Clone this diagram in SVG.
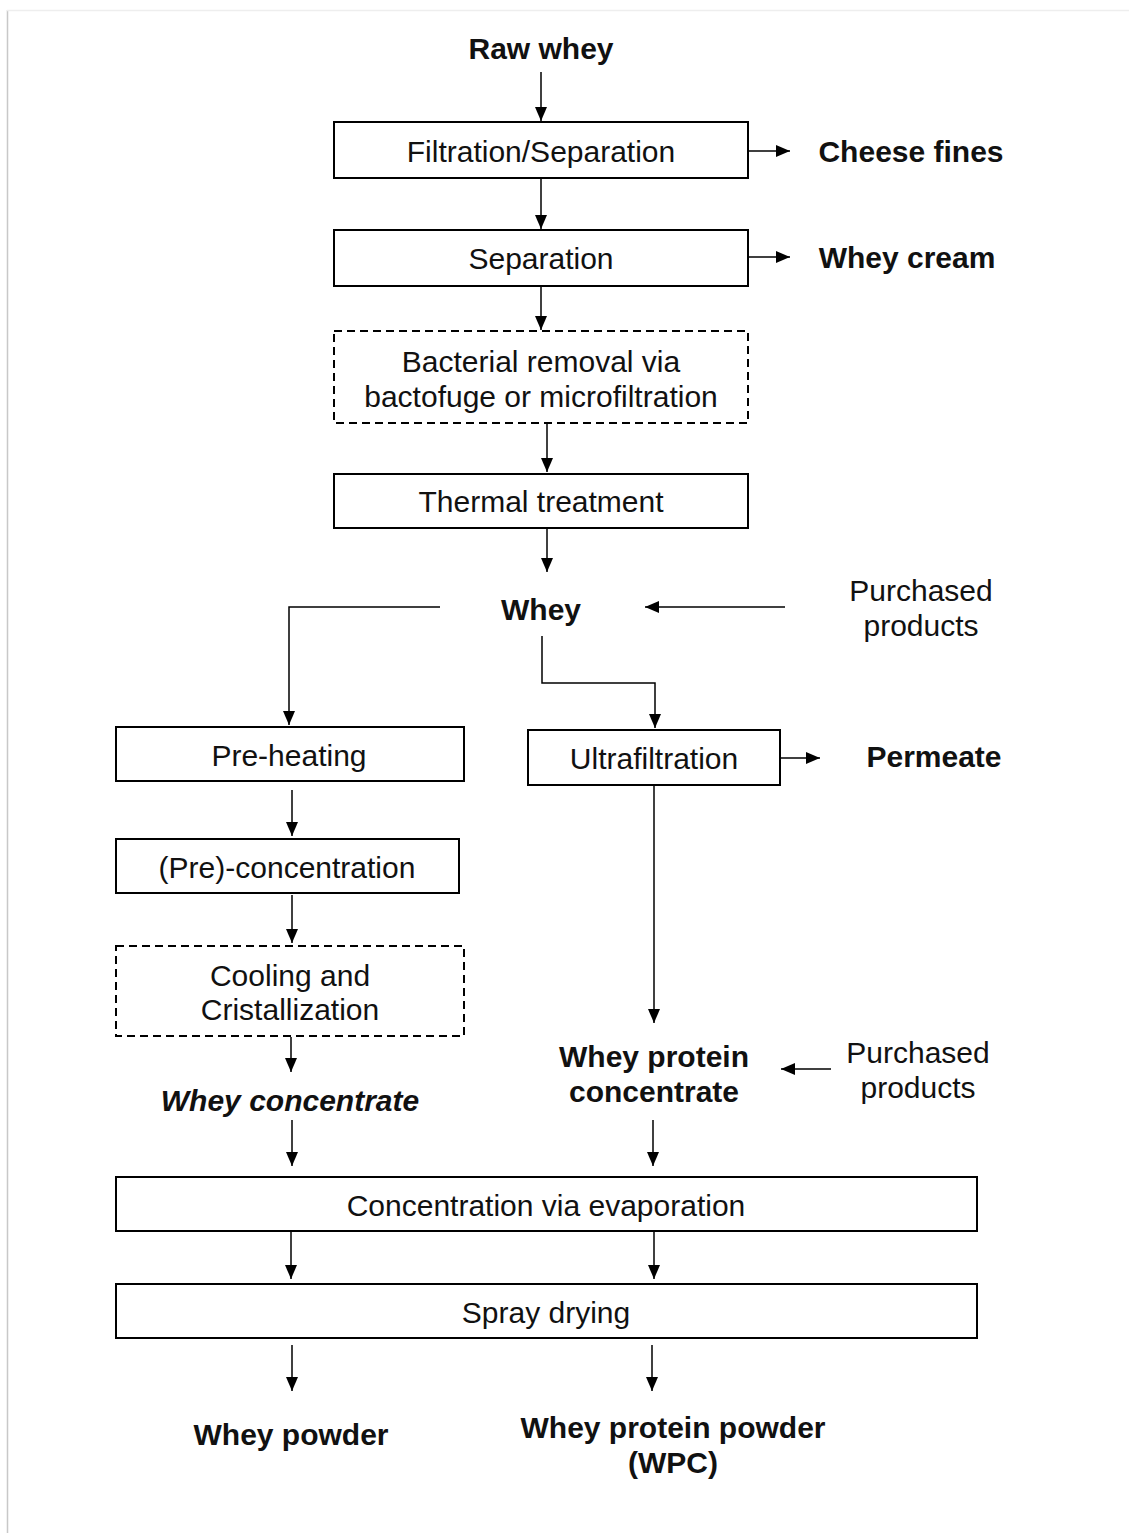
<svg xmlns="http://www.w3.org/2000/svg" width="1129" height="1533" viewBox="0 0 1129 1533">
<defs>
<marker id="ah" markerUnits="userSpaceOnUse" markerWidth="15" markerHeight="13" refX="14" refY="6" orient="auto">
<path d="M0,0 L14,6 L0,12 Z" fill="#000"/>
</marker>
</defs>
<style>
.box{fill:#fff;stroke:#000;stroke-width:2}
.dash{fill:#fff;stroke:#000;stroke-width:2;stroke-dasharray:8,5}
.t{font-family:"Liberation Sans",Arial,sans-serif;font-size:30px;fill:#111;text-anchor:middle;dominant-baseline:central}
.b{font-weight:bold}
.i{font-style:italic}
.c{fill:none;stroke:#000;stroke-width:1.5}
.ca{fill:none;stroke:#000;stroke-width:1.5;marker-end:url(#ah)}
</style>
<rect width="1129" height="1533" fill="#fff"/>
<line x1="7.5" y1="10" x2="7.5" y2="1533" stroke="#c8c8c8" stroke-width="1.5"/>
<line x1="7" y1="10.5" x2="1129" y2="10.5" stroke="#eeeeee" stroke-width="1.5"/>

<g id="connectors">
<line class="ca" x1="541" y1="72" x2="541" y2="121"/>
<line class="ca" x1="748" y1="151" x2="790" y2="151"/>
<line class="ca" x1="541" y1="179" x2="541" y2="229"/>
<line class="ca" x1="748" y1="257" x2="790" y2="257"/>
<line class="ca" x1="541" y1="287" x2="541" y2="330"/>
<line class="ca" x1="547" y1="424" x2="547" y2="472"/>
<line class="ca" x1="547" y1="529" x2="547" y2="572"/>
<polyline class="ca" points="440,607 289,607 289,725"/>
<line class="ca" x1="785" y1="607" x2="645" y2="607"/>
<polyline class="ca" points="542,636 542,683 655,683 655,728"/>
<line class="ca" x1="780" y1="758" x2="820" y2="758"/>
<line class="ca" x1="292" y1="790" x2="292" y2="836"/>
<line class="ca" x1="292" y1="895" x2="292" y2="943"/>
<line class="ca" x1="291" y1="1037" x2="291" y2="1072"/>
<line class="ca" x1="654" y1="786" x2="654" y2="1023"/>
<line class="ca" x1="831" y1="1069" x2="781" y2="1069"/>
<line class="ca" x1="292" y1="1120" x2="292" y2="1166"/>
<line class="ca" x1="653" y1="1120" x2="653" y2="1166"/>
<line class="ca" x1="291" y1="1232" x2="291" y2="1279"/>
<line class="ca" x1="654" y1="1232" x2="654" y2="1279"/>
<line class="ca" x1="292" y1="1345" x2="292" y2="1391"/>
<line class="ca" x1="652" y1="1345" x2="652" y2="1391"/>
</g>

<g id="raw-whey"><text class="t b" x="541" y="48">Raw whey</text></g>
<g id="filtration"><rect class="box" x="334" y="122" width="414" height="56"/><text class="t" x="541" y="151">Filtration/Separation</text></g>
<g id="cheese-fines"><text class="t b" x="911" y="151">Cheese fines</text></g>
<g id="separation"><rect class="box" x="334" y="230" width="414" height="56"/><text class="t" x="541" y="258">Separation</text></g>
<g id="whey-cream"><text class="t b" x="907" y="257">Whey cream</text></g>
<g id="bacterial"><rect class="dash" x="334" y="331" width="414" height="92"/><text class="t" x="541" y="361">Bacterial removal via</text><text class="t" x="541" y="396">bactofuge or microfiltration</text></g>
<g id="thermal"><rect class="box" x="334" y="474" width="414" height="54"/><text class="t" x="541" y="501">Thermal treatment</text></g>
<g id="whey"><text class="t b" x="541" y="609">Whey</text></g>
<g id="purchased1"><text class="t" x="921" y="590">Purchased</text><text class="t" x="921" y="625">products</text></g>
<g id="preheating"><rect class="box" x="116" y="727" width="348" height="54"/><text class="t" x="289" y="755">Pre-heating</text></g>
<g id="ultrafiltration"><rect class="box" x="528" y="730" width="252" height="55"/><text class="t" x="654" y="758">Ultrafiltration</text></g>
<g id="permeate"><text class="t b" x="934" y="756">Permeate</text></g>
<g id="preconcentration"><rect class="box" x="116" y="839" width="343" height="54"/><text class="t" x="287" y="867">(Pre)-concentration</text></g>
<g id="cooling"><rect class="dash" x="116" y="946" width="348" height="90"/><text class="t" x="290" y="975">Cooling and</text><text class="t" x="290" y="1009">Cristallization</text></g>
<g id="whey-concentrate"><text class="t b i" x="290" y="1100">Whey concentrate</text></g>
<g id="wpc"><text class="t b" x="654" y="1056">Whey protein</text><text class="t b" x="654" y="1091">concentrate</text></g>
<g id="purchased2"><text class="t" x="918" y="1052">Purchased</text><text class="t" x="918" y="1087">products</text></g>
<g id="evaporation"><rect class="box" x="116" y="1177" width="861" height="54"/><text class="t" x="546" y="1205">Concentration via evaporation</text></g>
<g id="spray"><rect class="box" x="116" y="1284" width="861" height="54"/><text class="t" x="546" y="1312">Spray drying</text></g>
<g id="whey-powder"><text class="t b" x="291" y="1434">Whey powder</text></g>
<g id="wpc-powder"><text class="t b" x="673" y="1427">Whey protein powder</text><text class="t b" x="673" y="1462">(WPC)</text></g>
</svg>
